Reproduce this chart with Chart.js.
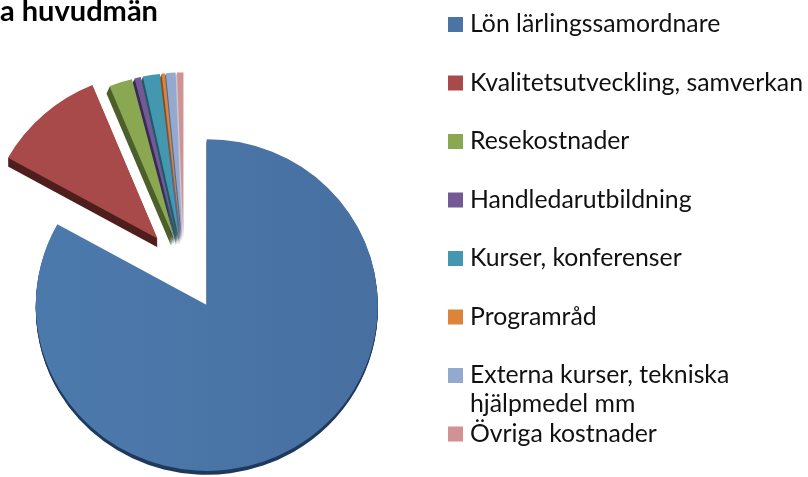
<!DOCTYPE html>
<html>
<head>
<meta charset="utf-8">
<style>
  html, body { margin: 0; padding: 0; background: #fff; }
  #wrap { width: 808px; height: 477px; }
</style>
<script src="https://cdn.jsdelivr.net/npm/chart.js@4"></script>
</head>
<body>
<div id="wrap"><canvas id="pie_chart" width="808" height="477"></canvas></div>
<script>
const titleText = "a huvudmän";
const categories = [
    "Lön lärlingssamordnare",
    "Kvalitetsutveckling, samverkan",
    "Resekostnader",
    "Handledarutbildning",
    "Kurser, konferenser",
    "Programråd",
    ["Externa kurser, tekniska", "hjälpmedel mm"],
    "Övriga kostnader",
];
const costShares = [83.0, 10.7, 2.2, 0.6, 1.6, 0.3, 0.9, 0.6];
const sliceColors = ["#4a74a6", "#a84a49", "#8aa752", "#745a94", "#4397ae", "#dc8439", "#93a9d0", "#d09292"];
const sideColors = ["#1f3a5c", "#4f1f1e", "#4d5f2a", "#3b2a55", "#205a6a", "#8a4d1c", "#566a90", "#c9c9d0"];
const sliceOffsets = [180, 160, 120, 120, 120, 120, 120, 120];
const sliceDepths = [4, 9, 7, 7, 7, 7, 7, 4];

// 饼图垂直压扁，模拟原图的倾斜效果
const tiltY = 0.97;
const pieRadius = 171;

const tiltPlugin = {
    id: "tiltPlugin",
    afterDatasetsUpdate(chart) {
        // offset 会放大半径并收窄扇形角度（与扇形角度有关），这里补偿回去
        chart.getDatasetMeta(0).data.forEach((arc, index) => {
            const fix = 1 - Math.sin(Math.min(Math.PI, arc.circumference));
            const grow = (sliceOffsets[index] / 4) * fix;
            const widen = grow / Math.PI / pieRadius / 2;
            arc.outerRadius = pieRadius - grow;
            arc.startAngle -= widen;
            arc.endAngle += widen;
        });
    },
    beforeDatasetsDraw(chart) {
        const { ctx, chartArea } = chart;
        const cy = (chartArea.top + chartArea.bottom) / 2;
        ctx.save();
        ctx.translate(0, cy);
        ctx.scale(1, tiltY);
        ctx.translate(0, -cy);

        // 侧面：先用深色把扇形向下错开画几层
        const arcs = chart.getDatasetMeta(0).data;
        arcs.forEach((arc, index) => {
            const fill = arc.options.backgroundColor;
            const slant = index >= 2 ? -0.45 : 0;
            arc.options.backgroundColor = sideColors[index];
            for (let i = sliceDepths[index]; i > 0; i--) {
                ctx.save();
                ctx.translate(i * slant, i);
                arc.draw(ctx);
                ctx.restore();
            }
            arc.options.backgroundColor = fill;
        });
    },
    afterDatasetsDraw(chart) {
        chart.ctx.restore();
    },
};

// 图例手动排版：第 7 项换行后仍保持等距
const legendPlugin = {
    id: "legendPlugin",
    afterDraw(chart) {
        const { ctx } = chart;
        ctx.save();
        ctx.font = "24.8px Lato";
        ctx.textBaseline = "middle";
        chart.data.labels.forEach((label, index) => {
            const y = 24.5 + index * 58.5;
            ctx.fillStyle = sliceColors[index];
            ctx.fillRect(448, y - 7.5, 15, 15);
            ctx.fillStyle = "#111";
            const lines = Array.isArray(label) ? label : [label];
            lines.forEach((line, n) => ctx.fillText(line, 470, y + n * 29));
        });
        ctx.restore();
    },
};

const canvas = document.getElementById("pie_chart");
const ctx = canvas.getContext("2d");

// 蓝色扇形从左到右略微变暗
const blueFill = ctx.createLinearGradient(36, 0, 380, 0);
blueFill.addColorStop(0, "#4c79ac");
blueFill.addColorStop(1, "#476fa0");

new Chart(ctx, {
    type: "pie",
    data: {
        labels: categories,
        datasets: [
            {
                data: costShares,
                backgroundColor: [blueFill].concat(sliceColors.slice(1)),
                borderWidth: 0,
                offset: sliceOffsets,
                clip: false,
            },
        ],
    },
    options: {
        responsive: false,
        animation: false,
        layout: { padding: { left: 0, right: 440, top: 0, bottom: 0 } },
        plugins: {
            legend: { display: false },
            tooltip: { enabled: false },
            title: {
                display: true,
                text: titleText,
                align: "start",
                color: "#000",
                font: { family: "Lato", size: 29, weight: "bold" },
                padding: { top: -6, bottom: 29 },
            },
        },
    },
    plugins: [tiltPlugin, legendPlugin],
});
</script>
</body>
</html>
